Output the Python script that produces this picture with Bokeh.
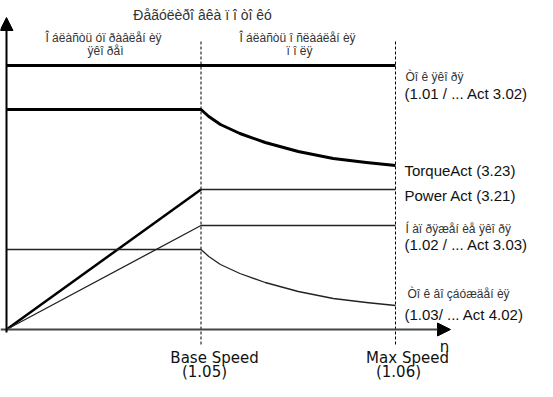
from bokeh.plotting import figure
from bokeh.models import Label, Arrow, NormalHead, Range1d
from bokeh.embed import file_html
from bokeh.resources import INLINE

# ---- data (speed in units of base speed, levels in arbitrary units) ----
speed_const = [0.0, 2.0]
armature_current = [264, 264]

torque_speed = [0.0, 1.0, 1.04, 1.1, 1.2, 1.33, 1.5, 1.68, 1.85, 2.0]
torque = [220, 220, 213, 205, 196, 187, 178, 171, 167, 164]

power_speed_ramp = [0.0, 1.0]
power_ramp = [0, 140]
power_speed_flat = [1.0, 2.0]
power_flat = [140, 140]

voltage_speed = [0.0, 1.0, 2.0]
voltage = [0, 104, 104]

field_speed = [0.0, 1.0, 1.04, 1.1, 1.2, 1.33, 1.5, 1.68, 1.85, 2.0]
field_current = [80, 80, 73, 65, 56, 47, 38, 31, 27, 24]

base_speed = 1.0
max_speed = 2.0

title_text = "Ðåãóëèðî âêà ï î  òî êó"
region_left = ["Î áëàñòü óï ðàâëåí èÿ", "ÿêî ðåì"]
region_right = ["Î áëàñòü î ñëàáëåí èÿ", "ï î ëÿ"]
curve_labels_small = ["Òî ê ÿêî ðÿ", "Í àï ðÿæåí èå ÿêî ðÿ", "Òî ê âî çáóæäåí èÿ"]
curve_labels_big = ["(1.01 /  ... Act 3.02)", "TorqueAct (3.23)", "Power Act (3.21)",
                    "(1.02 /  ... Act 3.03)", "(1.03/  ... Act 4.02)"]
speed_labels = ["Base Speed", "(1.05)", "Max Speed", "(1.06)"]
axis_name = "n"

W, H = 537, 381
PX_PER_SPEED = 194.5
X0 = 6            # frame px of speed 0
Y0 = 52           # frame px (from bottom) of level 0

p = figure(width=W, height=H, output_backend="svg", toolbar_location=None,
           x_range=Range1d(-X0 / PX_PER_SPEED, (W - X0) / PX_PER_SPEED),
           y_range=Range1d(-Y0, H - Y0), min_border=0)
p.axis.visible = False
p.grid.visible = False
p.outline_line_color = None
p.background_fill_color = "white"

# dashed region borders
for s in (base_speed, max_speed):
    p.segment(x0=s, y0=-15, x1=s, y1=289, line_color="black", line_width=1, line_dash="3 2")

# axes with arrowheads
p.add_layout(Arrow(end=NormalHead(size=13, fill_color="black", line_color="black"),
                   x_start=-X0 / PX_PER_SPEED, y_start=0, x_end=(458 - 14) / PX_PER_SPEED, y_end=0,
                   line_color="#444444", line_width=2))
p.add_layout(Arrow(end=NormalHead(size=13, fill_color="black", line_color="black"),
                   x_start=0, y_start=-3, x_end=0, y_end=312,
                   line_color="black", line_width=2))

# curves
p.line(speed_const, armature_current, line_color="black", line_width=3)
p.line(torque_speed, torque, line_color="black", line_width=3, line_join="round")
p.line(power_speed_ramp, power_ramp, line_color="black", line_width=2.5)
p.line(power_speed_flat, power_flat, line_color="#222222", line_width=1.3)
p.line(voltage_speed, voltage, line_color="#222222", line_width=1.3)
p.line(field_speed, field_current, line_color="#222222", line_width=1.3, line_join="round")


def lab(text, px, py, size, font="Liberation Sans", align="left", color="#111111"):
    p.add_layout(Label(x=px - 8, y=389 - py, x_units="screen", y_units="screen", text=text,
                       text_font=font, text_font_size=f"{size}px", text_align=align,
                       text_baseline="middle", text_color=color))


small_col = "#333333"
lab(title_text, 212, 22, 14, align="center", color=small_col)
lab(region_left[0], 111, 45, 12, align="center", color=small_col)
lab(region_left[1], 113, 58, 12, align="center", color=small_col)
lab(region_right[0], 305, 45, 12, align="center", color=small_col)
lab(region_right[1], 307, 58, 12, align="center", color=small_col)

lab(curve_labels_small[0], 413, 84, 12, color=small_col)
lab(curve_labels_big[0], 412, 101, 15)
lab(curve_labels_big[1], 412, 178, 15)
lab(curve_labels_big[2], 412, 203, 15)
lab(curve_labels_small[1], 413, 236, 12, color=small_col)
lab(curve_labels_big[3], 412, 252, 15)
lab(curve_labels_small[2], 415, 301, 12, color=small_col)
lab(curve_labels_big[4], 412, 322, 15)

lab(axis_name, 452, 354, 15, font="DejaVu Sans", align="center")
lab(speed_labels[0], 222, 365, 15, font="DejaVu Sans", align="center")
lab(speed_labels[1], 212, 379, 15, font="DejaVu Sans", align="center")
lab(speed_labels[2], 415, 365, 15, font="DejaVu Sans", align="center")
lab(speed_labels[3], 406, 379, 15, font="DejaVu Sans", align="center")

open("out.html", "w").write(file_html(p, INLINE))
